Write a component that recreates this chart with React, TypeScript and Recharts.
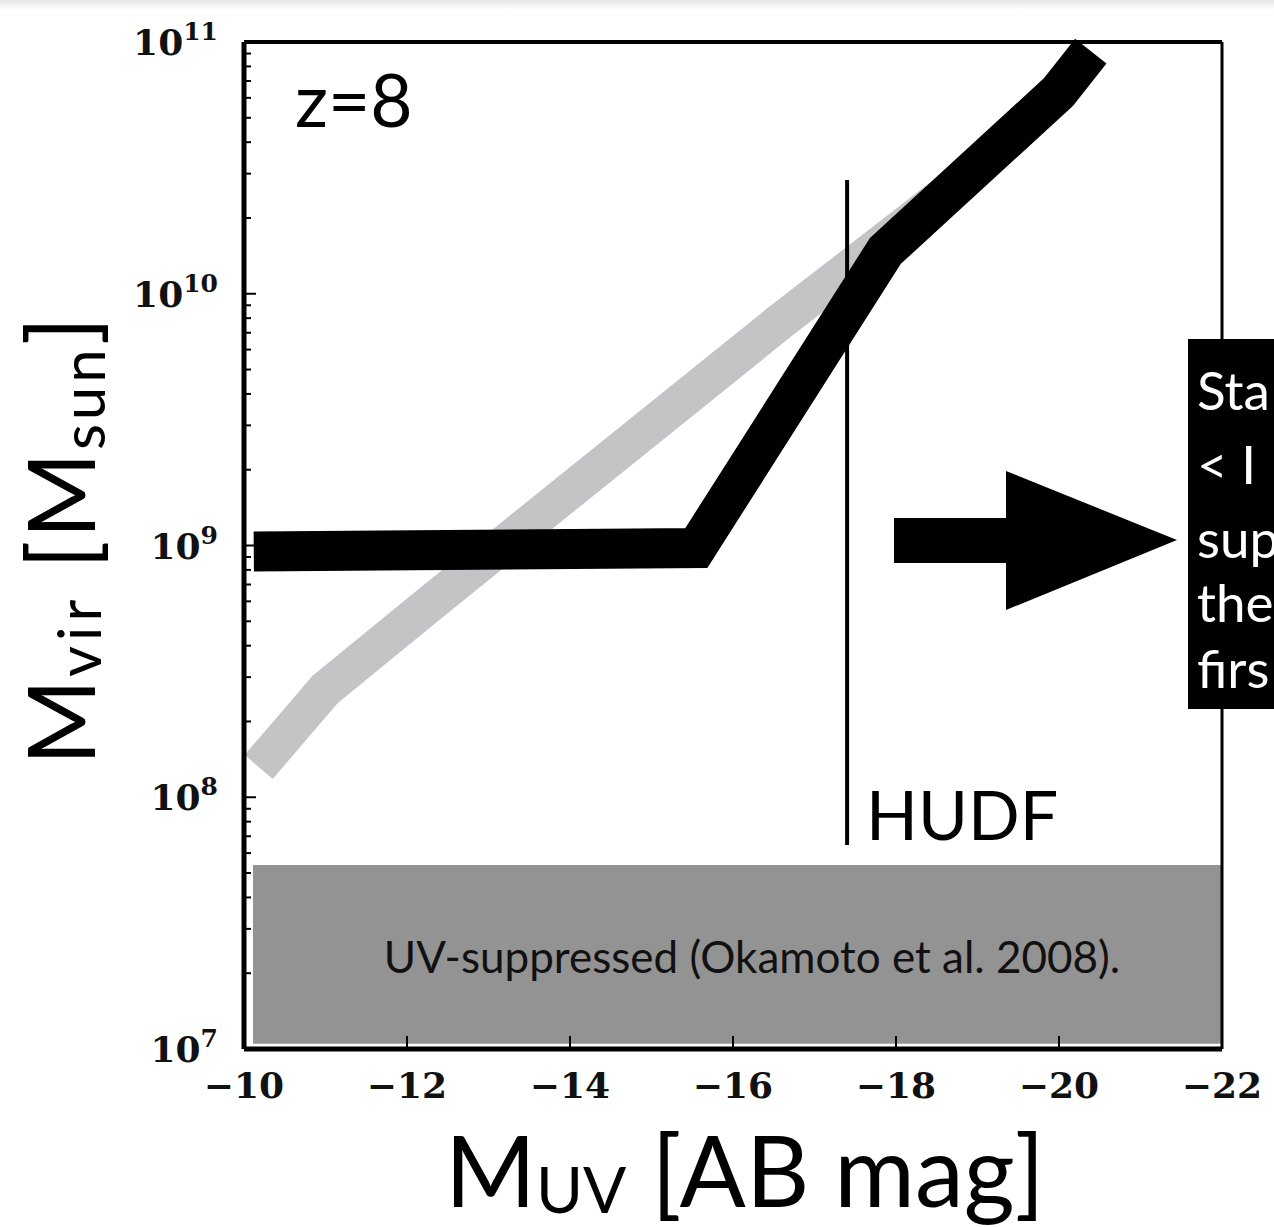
import React from 'react';
import { ComposedChart, Line, XAxis, YAxis, ReferenceArea } from 'recharts';

const SANS = 'Lato, "Open Sans", "Noto Sans", sans-serif';
const SERIF = '"DejaVu Serif", "Liberation Serif", serif';

// thick black model curve (M_UV vs halo mass)
const blackMuv = [-10.12, -15.55, -17.87, -19.99, -20.39];
const blackMvir = [9.46e8, 9.77e8, 1.48e10, 6.31e10, 9.2e10];

// grey reference relation
const grayMuv = [-10.18, -11.0, -12.4, -16.57, -18.9];
const grayMvir = [1.32e8, 2.69e8, 6.31e8, 7.71e9, 2.95e10];

// HUDF depth limit
const hudfMuv = [-17.4, -17.4];
const hudfMvir = [6.46e7, 2.83e10];

// UV-suppressed halo mass band
const bandMuv = [-10.11, -22];
const bandMvir = [1.05e7, 5.38e7];

const xTicks = [-10, -12, -14, -16, -18, -20, -22];
const yMajor = [1e7, 1e8, 1e9, 1e10, 1e11];
const yMinorSteps = [2, 3, 4, 5, 6, 7, 8, 9];
const yTicks = yMajor.flatMap((d, i) =>
  i === yMajor.length - 1 ? [d] : [d, ...yMinorSteps.map((m) => m * d)]
);

// cut-off side note lines, as visible at the right edge
const noteLines = ['Sta', '< I', 'sup', 'the', 'firs'];
const noteBaselines = [410, 484, 558, 622, 688];

const toPoints = (xs: number[], ys: number[]) => xs.map((x, i) => ({ x, y: ys[i] }));

const blackData = toPoints(blackMuv, blackMvir);
const grayData = toPoints(grayMuv, grayMvir);
const hudfData = toPoints(hudfMuv, hudfMvir);

const YTick = (props: any) => {
  const { x, y, payload } = props;
  const lg = Math.log10(payload.value);
  const exp = Math.round(lg);
  const major = Math.abs(lg - exp) < 1e-6;
  return (
    <g>
      <line x1={x} x2={x + (major ? 12 : 7)} y1={y} y2={y} stroke="#000" strokeWidth={2} />
      {major && (
        <text
          x={x - 26}
          y={y + 13}
          textAnchor="end"
          fontFamily={SERIF}
          fontWeight="bold"
          fontSize={36}
          fill="#111"
        >
          10
          <tspan dy={-15} fontSize={25}>
            {exp}
          </tspan>
        </text>
      )}
    </g>
  );
};

const XTick = (props: any) => {
  const { x, y, payload } = props;
  return (
    <g>
      <line x1={x} x2={x} y1={y} y2={y - 13} stroke="#000" strokeWidth={2} />
      <text
        x={x}
        y={y + 49}
        textAnchor="middle"
        fontFamily={SERIF}
        fontWeight="bold"
        fontSize={36}
        fill="#111"
      >
        {'\u2212' + Math.abs(payload.value)}
      </text>
    </g>
  );
};

const TopTick = (props: any) => {
  const { x, y } = props;
  return <line x1={x} x2={x} y1={y} y2={y + 12} stroke="#000" strokeWidth={2} />;
};

export default function App() {
  return (
    <div style={{ position: 'relative', width: 1274, height: 1227, overflow: 'hidden', background: '#fff' }}>
      <style>{'body{margin:0}'}</style>
      <div
        style={{
          position: 'absolute',
          top: 0,
          left: 0,
          width: 1274,
          height: 10,
          background: 'linear-gradient(#e4e4e4, #ffffff)',
        }}
      />
      <ComposedChart width={1274} height={1227} margin={{ top: 32, right: 42, bottom: 118, left: 144 }}>
        <XAxis
          dataKey="x"
          type="number"
          domain={[-22, -10]}
          reversed
          ticks={xTicks}
          interval={0}
          height={60}
          tickSize={0}
          tickMargin={0}
          tickLine={false}
          axisLine={{ stroke: '#000', strokeWidth: 5 }}
          tick={<XTick />}
        />
        <XAxis
          xAxisId="top"
          orientation="top"
          dataKey="x"
          type="number"
          domain={[-22, -10]}
          reversed
          ticks={xTicks}
          interval={0}
          height={10}
          tickSize={0}
          tickMargin={0}
          tickLine={false}
          axisLine={{ stroke: '#000', strokeWidth: 4 }}
          tick={<TopTick />}
        />
        <YAxis
          type="number"
          scale="log"
          domain={[1e7, 1e11]}
          ticks={yTicks}
          interval={0}
          width={100}
          tickSize={0}
          tickMargin={0}
          tickLine={false}
          axisLine={{ stroke: '#000', strokeWidth: 5 }}
          tick={<YTick />}
        />
        <YAxis
          yAxisId="right"
          orientation="right"
          type="number"
          scale="log"
          domain={[1e7, 1e11]}
          ticks={yMajor}
          width={10}
          tick={false}
          tickLine={false}
          axisLine={{ stroke: '#000', strokeWidth: 3 }}
        />
        <ReferenceArea
          x1={bandMuv[0]}
          x2={bandMuv[1]}
          y1={bandMvir[0]}
          y2={bandMvir[1]}
          fill="#939393"
          fillOpacity={1}
          stroke="none"
        />
        <Line
          data={grayData}
          dataKey="y"
          type="linear"
          stroke="#c3c4c6"
          strokeWidth={37}
          strokeLinejoin="miter"
          strokeLinecap="butt"
          dot={false}
          activeDot={false}
          isAnimationActive={false}
        />
        <Line
          data={hudfData}
          dataKey="y"
          type="linear"
          stroke="#000"
          strokeWidth={4}
          dot={false}
          activeDot={false}
          isAnimationActive={false}
        />
        <Line
          data={blackData}
          dataKey="y"
          type="linear"
          stroke="#000"
          strokeWidth={40}
          strokeLinejoin="miter"
          strokeLinecap="butt"
          dot={false}
          activeDot={false}
          isAnimationActive={false}
        />
      </ComposedChart>
      <svg
        width={1274}
        height={1227}
        style={{ position: 'absolute', top: 0, left: 0, pointerEvents: 'none' }}
      >
        <text x={295} y={127} fontFamily={SANS} fontSize={73} fill="#000">
          z=8
        </text>
        <text x={866} y={840} fontFamily={SANS} fontSize={68} fill="#000">
          HUDF
        </text>
        <text x={752} y={973} textAnchor="middle" fontFamily={SANS} fontSize={44} fill="#111">
          UV-suppressed (Okamoto et al. 2008).
        </text>
        <polygon
          points="894,518 1006,518 1006,471 1177,540 1006,610 1006,563 894,563"
          fill="#000"
        />
        <rect x={1188} y={339} width={100} height={370} fill="#000" />
        <g fontFamily={SANS} fontSize={53} fill="#fff">
          {noteLines.map((t, i) => (
            <text key={t} x={1197} y={noteBaselines[i]}>
              {t}
            </text>
          ))}
        </g>
        <text x={445} y={1207} fontFamily={SANS} fontSize={98} fill="#000">
          M
          <tspan fontSize={64} dy={6}>
            UV
          </tspan>
          <tspan dy={-6}> [AB mag]</tspan>
        </text>
        <text
          transform="translate(95,540) rotate(-90)"
          textAnchor="middle"
          fontFamily={SANS}
          fontSize={93}
          letterSpacing={2}
          fill="#000"
        >
          M
          <tspan fontSize={60} dy={6} letterSpacing={5}>
            vir
          </tspan>
          <tspan dy={-6}> [M</tspan>
          <tspan fontSize={60} dy={10} letterSpacing={4}>
            sun
          </tspan>
          <tspan dy={-10}>]</tspan>
        </text>
      </svg>
    </div>
  );
}
